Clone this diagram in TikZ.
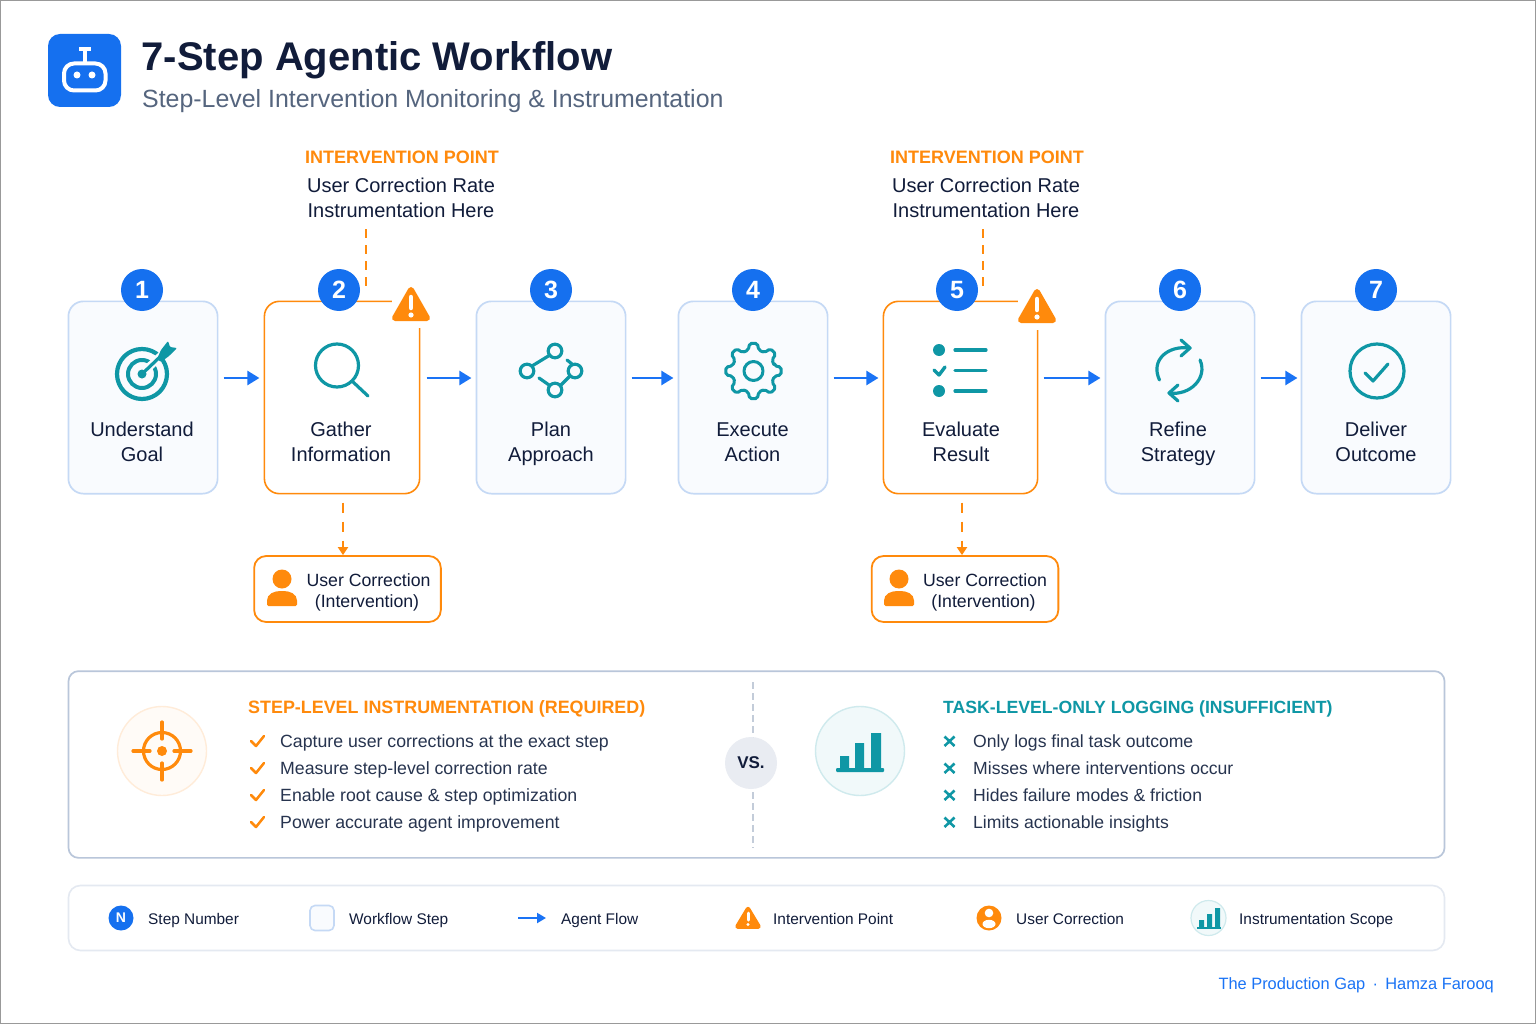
\documentclass[tikz,border=0pt]{standalone}
\usepackage{fontspec}
\setmainfont{Liberation Sans}
\usetikzlibrary{arrows.meta,calc}
\definecolor{cblue}{HTML}{1570EF}
\definecolor{cflow}{HTML}{1A73F5}
\definecolor{corange}{HTML}{FF8A0C}
\definecolor{cteal}{HTML}{0F97A5}
\definecolor{cink}{HTML}{111C3A}
\definecolor{cbody}{HTML}{27344F}
\definecolor{csub}{HTML}{55657E}
\definecolor{cbox}{HTML}{F9FBFE}
\definecolor{cboxl}{HTML}{C5D9F5}
\definecolor{cpanel}{HTML}{B9C6DA}
\definecolor{clegend}{HTML}{E4E9F1}
\definecolor{cvs}{HTML}{E9ECF2}
\definecolor{cdiv}{HTML}{C3CCD9}
\newcommand{\fsz}[1]{\fontsize{#1}{#1}\selectfont}
\tikzset{
 x=1pt,y=-1pt,
 stepbox/.style={draw=cboxl,line width=1.7pt,fill=cbox,rounded corners=15pt,minimum height=192.3pt,inner sep=0pt,outer sep=0pt},
 hotbox/.style={stepbox,draw=corange,fill=white,line width=1.6pt},
 badge/.style={circle,fill=cblue,text=white,minimum size=42pt,inner sep=0pt,font=\fsz{25}\bfseries},
 steplabel/.style={inner sep=0pt,align=center,text=cink,font=\fontsize{20}{25}\selectfont},
 flow/.style={draw=cflow,line width=2.4pt,-{Triangle[length=12pt,width=14pt]}},
 idash/.style={draw=corange,line width=2.5pt,dash pattern=on 9pt off 7pt},
 idown/.style={draw=corange,line width=2.2pt,dash pattern=on 10pt off 9pt,-{Triangle[length=8pt,width=10pt]},shorten <=9pt},
 icon/.style={draw=cteal,line width=3.2pt,line cap=round,line join=round},
 base w/.style={inner sep=0pt,anchor=base west},
 iphead/.style={inner sep=0pt,text=corange,font=\fsz{18}\bfseries},
 iptext/.style={inner sep=0pt,align=center,text=cink,font=\fontsize{20}{25}\selectfont},
 ucbox/.style={draw=corange,fill=white,line width=1.8pt,rounded corners=12pt,minimum width=186.7pt,minimum height=66pt,inner sep=0pt},
 uctext/.style={inner sep=0pt,align=center,text=cink,font=\fontsize{17.7}{21}\selectfont},
 listtext/.style={base w,text=cbody,font=\fsz{17.7}},
 listtextb/.style={base w,text=cbody,font=\fsz{17.6}},
 legtext/.style={base w,text=cink,font=\fsz{15.4}},
 warnpic/.pic={
  \fill[white] (-19,-19) rectangle (21,24);
  \draw[fill=corange,draw=corange,line width=6pt,line join=round] (0,-14) -- (16,14) -- (-16,14) -- cycle;
  \draw[white,line width=4.5pt,line cap=round] (0,-7) -- (0,4);
  \fill[white] (0,11) circle (2.6);
 },
 personpic/.pic={
  \fill[corange] (0,-12) circle (9.5);
  \fill[corange,rounded corners=1.5pt] (-15,15) -- (-15,11) .. controls (-15,3) and (-8,0) .. (0,0) .. controls (8,0) and (15,3) .. (15,11) -- (15,15) -- cycle;
 },
}
\begin{document}
\begin{tikzpicture}
\useasboundingbox (0,0) rectangle (1536,1024);
\fill[white] (0,0) rectangle (1536,1024);
\draw[color=black!40,line width=1.5pt] (0.5,0.5) rectangle (1535.5,1023.5);

% header
\fill[cblue,rounded corners=12pt] (48,34) rectangle (121,107);
\draw[white,line width=4pt,rounded corners=10pt] (64,63.5) rectangle (105.5,90.5);
\draw[white,line width=4pt] (85,63) -- (85,50) (79,49.5) -- (91,49.5);
\fill[white] (77,75) circle (3.5) (92,75) circle (3.5);
\node[base w,text=cink,font=\fsz{40}\bfseries] (title) at (141.5,71) {7-Step Agentic Workflow};
\node[base w,text=csub,font=\fsz{24.9}] (subtitle) at (142,107.5) {Step-Level Intervention Monitoring \& Instrumentation};

% intervention labels
\node[iphead] (ip1) at (402,157) {INTERVENTION POINT};
\node[iptext] (ipt1) at (401,198) {User Correction Rate\\Instrumentation Here};
\node[iphead] (ip2) at (987,157) {INTERVENTION POINT};
\node[iptext] (ipt2) at (986,198) {User Correction Rate\\Instrumentation Here};

% step boxes
\node[stepbox,minimum width=149.2pt] (s1) at (143,397.5) {};
\node[hotbox,minimum width=155.2pt] (s2) at (342,397.5) {};
\node[stepbox,minimum width=149.2pt] (s3) at (551,397.5) {};
\node[stepbox,minimum width=149.2pt] (s4) at (753,397.5) {};
\node[hotbox,minimum width=154.2pt] (s5) at (960.5,397.5) {};
\node[stepbox,minimum width=149.2pt] (s6) at (1180,397.5) {};
\node[stepbox,minimum width=149.2pt] (s7) at (1376,397.5) {};

\node[steplabel] (l1) at (142,442) {Understand\\Goal};
\node[steplabel] (l2) at (341,442) {Gather\\Information};
\node[steplabel] (l3) at (551,444) {Plan\\Approach};
\node[steplabel] (l4) at (752.5,442) {Execute\\Action};
\node[steplabel] (l5) at (961,442) {Evaluate\\Result};
\node[steplabel] (l6) at (1178,444) {Refine\\Strategy};
\node[steplabel] (l7) at (1376,442) {Deliver\\Outcome};

% warnings
\pic at (411,304) {warnpic};
\pic at (1037,306) {warnpic};

% dashes
\coordinate (up1) at (366,288);
\coordinate (up2) at (983,288);
\draw[idash] (up1 |- ipt1.south) ++(0,11) -- (up1);
\draw[idash] (up2 |- ipt2.south) ++(0,11) -- (up2);

% badges
\node[badge] (b1) at (142,290) {1};
\node[badge] (b2) at (339,290) {2};
\node[badge] (b3) at (551,290) {3};
\node[badge] (b4) at (753,290) {4};
\node[badge] (b5) at (957,290) {5};
\node[badge] (b6) at (1180,290) {6};
\node[badge] (b7) at (1376,290) {7};

% flow arrows
\draw[flow,shorten <=6pt,shorten >=5pt] ([yshift=19.5pt]s1.east) -- ([yshift=19.5pt]s2.west);
\draw[flow,shorten <=7pt,shorten >=5pt] ([yshift=19.5pt]s2.east) -- ([yshift=19.5pt]s3.west);
\draw[flow,shorten <=6pt,shorten >=5pt] ([yshift=19.5pt]s3.east) -- ([yshift=19.5pt]s4.west);
\draw[flow,shorten <=6pt,shorten >=5pt] ([yshift=19.5pt]s4.east) -- ([yshift=19.5pt]s5.west);
\draw[flow,shorten <=6pt,shorten >=5pt] ([yshift=19.5pt]s5.east) -- ([yshift=19.5pt]s6.west);
\draw[flow,shorten <=6pt,shorten >=4pt] ([yshift=19.5pt]s6.east) -- ([yshift=19.5pt]s7.west);

% user corrections
\node[ucbox] (u1) at (347.5,589) {};
\node[ucbox] (u2) at (965,589) {};
\coordinate (dn1) at (343,520);
\coordinate (dn2) at (962,520);
\draw[idown] (dn1 |- s2.south) -- (dn1 |- u1.north);
\draw[idown] (dn2 |- s5.south) -- (dn2 |- u2.north);
\pic at (282,591) {personpic};
\pic at (899,591) {personpic};
\node[uctext] (ut1) at (368.5,592) {User Correction\\(Intervention)\hspace*{3pt}};
\node[uctext] (ut2) at (985,592) {User Correction\\(Intervention)\hspace*{3pt}};

% icon 1: target
\draw[icon,line width=4.2pt] (142,374) circle (25);
\draw[icon,line width=4pt] (142,374) circle (14);
\fill[cteal] (142,374) circle (4.5);
\draw[cbox,line width=8pt] (149,367) -- (165,352);
\draw[icon,line width=3.2pt] (142,374) -- (163,354);
\fill[cteal,rounded corners=1pt] (157,359) -- (161,350) -- (168,341) -- (170,347) -- (177,348) -- (169,356) -- (161,362) -- cycle;

% icon 2: magnifier
\draw[icon] (337,365.5) circle (21.5);
\draw[icon] (352,381) -- (368,396);

% icon 3: plan
\foreach \cx/\cy in {555/351,527/371,575/371,555/390}{\draw[icon] (\cx,\cy) circle (6.8);}
\draw[icon] (532,366) -- (550,355);
\draw[icon] (567,360) -- (572,364);
\draw[icon] (539,378) -- (549,385);
\draw[icon] (561,385) -- (570,376);

% icon 4: gear
\begin{scope}[shift={(753.5,371)}]
\draw[icon,line width=3pt,rounded corners=2pt] (-14:21.5) foreach \t in {0,45,...,315}{ -- (\t-14:21.5) -- (\t-8:28) -- (\t+8:28) -- (\t+14:21.5)} -- cycle;
\draw[icon,line width=3pt] (0,0) circle (9.5);
\end{scope}

% icon 5: checklist
\fill[cteal] (939,350) circle (6) (939,391) circle (6);
\draw[icon,line width=3.4pt] (934,370) -- (939,375) -- (945,367);
\draw[icon] (955,350) -- (986,350) (955,370.5) -- (986,370.5) (955,391) -- (986,391);

% icon 6: refine
\draw[icon] (1159.5,380) .. controls (1150,360) and (1168,345) .. (1190,348);
\draw[icon] (1181,340) -- (1190,348) -- (1181,356);
\draw[icon] (1200,360) .. controls (1208,378) and (1190,396) .. (1169,393);
\draw[icon] (1178,385) -- (1169,393) -- (1178,401);

% icon 7: check
\draw[icon] (1377,371) circle (27);
\draw[icon] (1365,373) -- (1373,381) -- (1388,364);

% comparison panel
\node[draw=cpanel,line width=1.7pt,rounded corners=10pt,fill=white,minimum width=1376pt,minimum height=186.7pt,inner sep=0pt] (panel) at (756.5,764.5) {};
\coordinate (dv) at (753,682);
\coordinate (dve) at (753,848);
\draw[draw=cdiv,line width=1.2pt,dash pattern=on 7pt off 4pt] (dv) -- (dve);

\draw[fill=orange!3,draw=orange!15,line width=1.4pt] (162,751) circle (44.5);
\draw[corange,line width=3.2pt,line cap=round] (162,751) circle (18.5);
\draw[corange,line width=3.2pt,line cap=round] (133,751) -- (150,751) (174,751) -- (191,751) (162,722) -- (162,739) (162,763) -- (162,780);
\fill[corange] (162,751) circle (5);
\node[base w,text=corange,font=\fsz{17.9}\bfseries] (h1) at (248,713.5) {STEP-LEVEL INSTRUMENTATION (REQUIRED)};
\foreach \yy/\tt/\nm in {741/Capture user corrections at the exact step/a1,768/Measure step-level correction rate/a2,795/Enable root cause \& step optimization/a3,822/Power accurate agent improvement/a4}{
 \draw[corange,line width=2.5pt,line cap=round,line join=round] (251,\yy) -- (256,\yy+5) -- (264,\yy-5);
 \node[listtext] (\nm) at (280,\yy+6) {\tt};
}

\node[circle,fill=cvs,text=cink,minimum size=52pt,inner sep=0pt,font=\fsz{17}\bfseries] (vs) at (751,763) {\raisebox{-2pt}{VS.}};

\draw[fill=cteal!6,draw=cteal!20,line width=1.4pt] (860,751) circle (44.5);
\fill[cteal] (840,756) rectangle (849,770) (855,743) rectangle (864,770) (871,733) rectangle (881,770);
\fill[cteal,rounded corners=1pt] (836,768) rectangle (884,772);
\node[base w,text=cteal,font=\fsz{17.65}\bfseries] (h2) at (943,713.5) {TASK-LEVEL-ONLY LOGGING (INSUFFICIENT)};
\foreach \yy/\tt/\nm in {741/Only logs final task outcome/c1,768/Misses where interventions occur/c2,795/Hides failure modes \& friction/c3,822/Limits actionable insights/c4}{
 \draw[cteal,line width=2.6pt] (944.5,\yy-4.5) -- (954.5,\yy+5) (954.5,\yy-4.5) -- (944.5,\yy+5);
 \node[listtextb] (\nm) at (973,\yy+6) {\tt};
}

% legend
\node[draw=clegend,line width=1.6pt,rounded corners=12pt,fill=white,minimum width=1376pt,minimum height=65pt,inner sep=0pt] (legend) at (756.5,918) {};
\node[circle,fill=cblue,text=white,minimum size=25pt,inner sep=0pt,font=\fsz{14}\bfseries] (lgn) at (121,918) {N};
\node[legtext] (lgt1) at (148,924.5) {Step Number};
\node[draw=cboxl,line width=1.6pt,fill=cbox,rounded corners=5pt,minimum width=24pt,minimum height=25pt,inner sep=0pt] (lgs) at (322,918) {};
\node[legtext] (lgt2) at (349,924.5) {Workflow Step};
\coordinate (lga) at (518,918);
\coordinate (lgb) at (546,918);
\draw[flow,line width=2pt,-{Triangle[length=9pt,width=10pt]}] (lga) -- (lgb);
\node[legtext] (lgt3) at (561,924.5) {Agent Flow};
\draw[fill=corange,draw=corange,line width=4.5pt,line join=round] (748,909) -- (758.5,926.5) -- (737.5,926.5) -- cycle;
\draw[white,line width=3pt,line cap=round] (748,913) -- (748,920);
\fill[white] (748,924.5) circle (1.7);
\node[legtext] (lgt4) at (773,924.5) {Intervention Point};
\fill[corange] (989,918) circle (12.5);
\fill[white] (989,913) circle (4.3) (989,924) ellipse (6.5 and 4.2);
\node[legtext] (lgt5) at (1016,924.5) {User Correction};
\draw[fill=cteal!6,draw=cteal!20,line width=1.2pt] (1208.5,918) circle (17.5);
\fill[cteal] (1199,920) rectangle (1204,927) (1207,914) rectangle (1212,927) (1215,908) rectangle (1220,927);
\fill[cteal] (1197,926.5) rectangle (1221,928.5);
\node[legtext] (lgt6) at (1239,924.5) {Instrumentation Scope};

% footer
\node[inner sep=0pt,anchor=base east,text=cflow,font=\fsz{16.4}] (foot) at (1494,989) {The Production Gap \,·\, Hamza Farooq};
\end{tikzpicture}
\end{document}
